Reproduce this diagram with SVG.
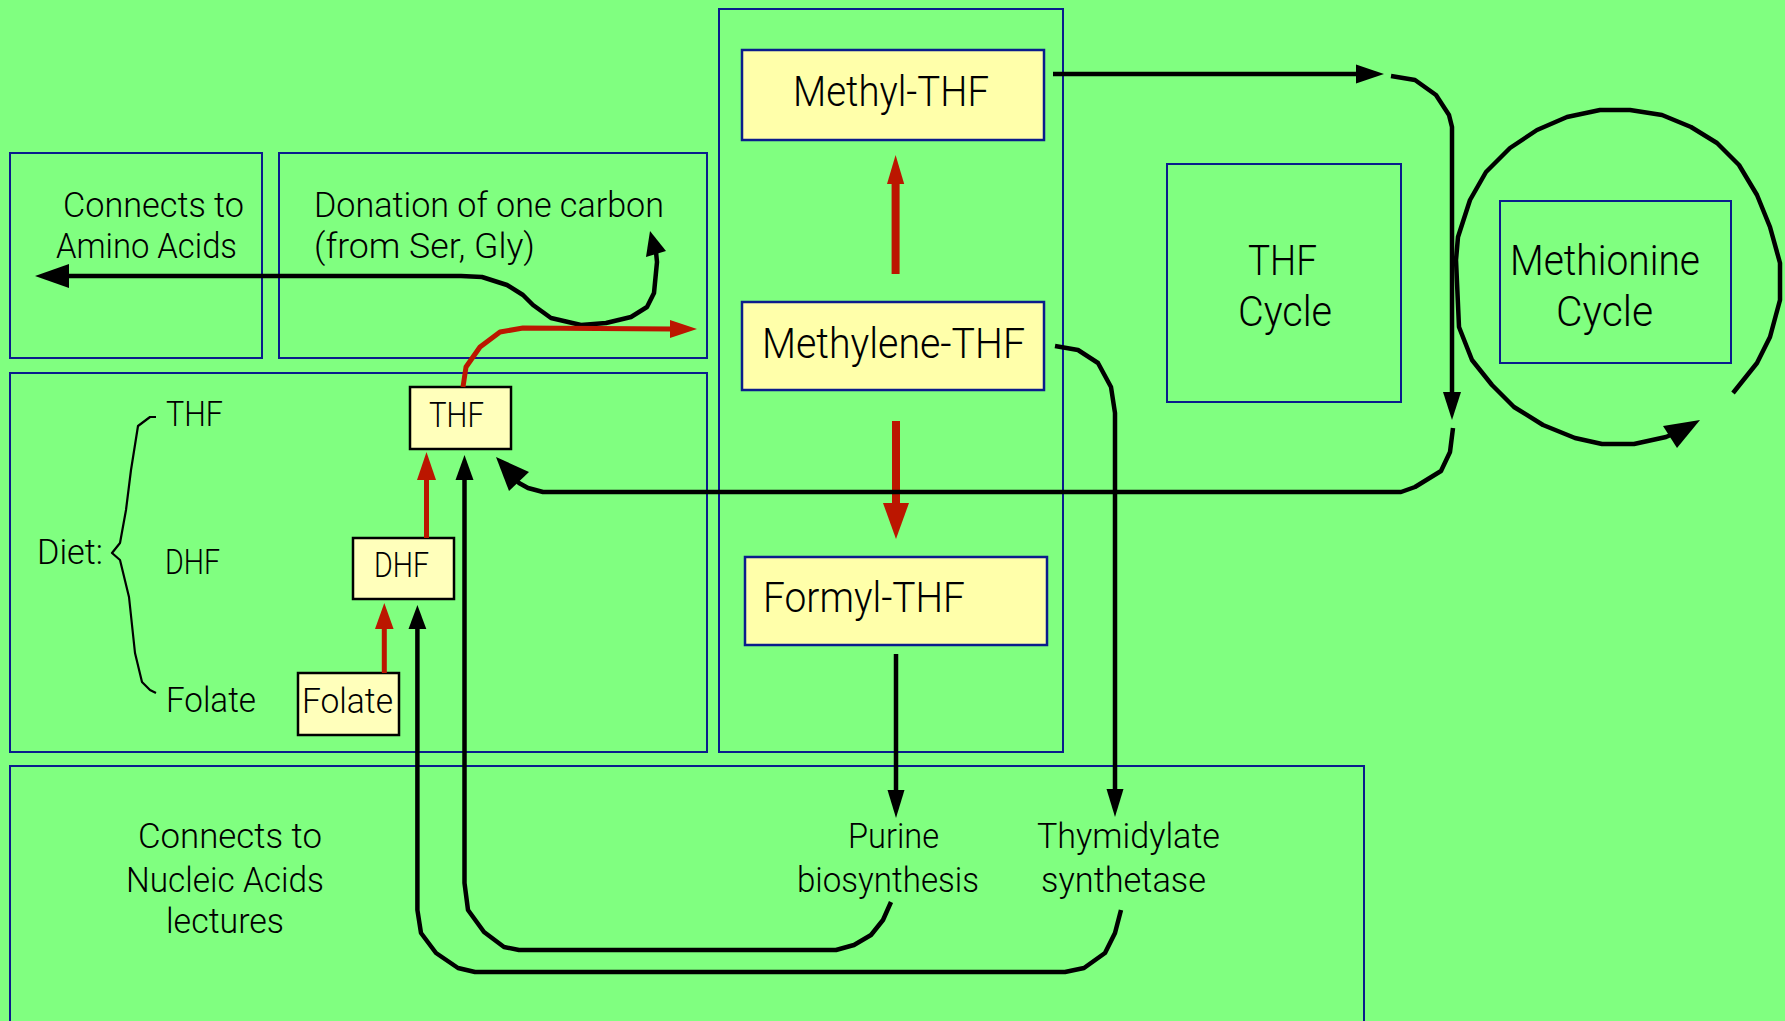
<svg xmlns="http://www.w3.org/2000/svg" width="1785" height="1021" viewBox="0 0 1785 1021">
<style>
.bg{fill:#80FF80}
.frame{fill:none;stroke:#0A1C8C;stroke-width:2}
.node{fill:#FFFFAA;stroke:#0A1C8C;stroke-width:2.5}
.snode{fill:#FFFFBB;stroke:#000;stroke-width:2.5}
text{font-family:Roboto,"Liberation Sans",Arial,sans-serif;font-weight:300;fill:#000}
.s{font-size:35px}
.l{font-size:42px}
.blk{fill:none;stroke:#000;stroke-width:4.5;stroke-linejoin:round}
.thin{fill:none;stroke:#000;stroke-width:2.2;stroke-linejoin:round}
.red{fill:none;stroke:#BB1600;stroke-width:5;stroke-linejoin:round}
.redw{fill:none;stroke:#BB1600;stroke-width:8}
.ah{fill:#000}
.rah{fill:#BB1600}
</style>
<rect class="bg" x="0" y="0" width="1785" height="1021"/>

<g id="amino-acids">
<rect class="frame" x="10" y="153" width="252" height="205"/>
<text class="s" x="63" y="217" textLength="181" lengthAdjust="spacingAndGlyphs">Connects to</text>
<text class="s" x="56" y="258" textLength="181" lengthAdjust="spacingAndGlyphs">Amino Acids</text>
</g>

<g id="donation">
<rect class="frame" x="279" y="153" width="428" height="205"/>
<text class="s" x="314" y="217" textLength="350" lengthAdjust="spacingAndGlyphs">Donation of one carbon</text>
<text class="s" x="314" y="258" textLength="221" lengthAdjust="spacingAndGlyphs">(from Ser, Gly)</text>
</g>

<g id="diet">
<rect class="frame" x="10" y="373" width="697" height="379"/>
<text class="s" x="37" y="564" textLength="66" lengthAdjust="spacingAndGlyphs">Diet:</text>
<text class="s" x="166" y="426" textLength="57" lengthAdjust="spacingAndGlyphs">THF</text>
<text class="s" x="165" y="574" textLength="55" lengthAdjust="spacingAndGlyphs">DHF</text>
<text class="s" x="166" y="712" textLength="90" lengthAdjust="spacingAndGlyphs">Folate</text>
<path class="thin" d="M156,417 L150,417 L138,426 L131,470 L126,510 L120,543 L112,553 L120,560 L129,597 L132,625 L135,653 L142,682 L150,690 L156,693"/>
</g>

<g id="node-thf">
<rect class="snode" x="410" y="387" width="101" height="62"/>
<text class="s" x="429" y="427" textLength="55" lengthAdjust="spacingAndGlyphs">THF</text>
</g>
<g id="node-dhf">
<rect class="snode" x="353" y="538" width="101" height="61"/>
<text class="s" x="374" y="577" textLength="55" lengthAdjust="spacingAndGlyphs">DHF</text>
</g>
<g id="node-folate">
<rect class="snode" x="298" y="673" width="101" height="62"/>
<text class="s" x="302" y="713" textLength="91" lengthAdjust="spacingAndGlyphs">Folate</text>
</g>

<g id="thf-forms">
<rect class="frame" x="719" y="9" width="344" height="743"/>
</g>
<g id="node-methyl">
<rect class="node" x="742" y="50" width="302" height="90"/>
<text class="l" x="793" y="106" textLength="196" lengthAdjust="spacingAndGlyphs">Methyl-THF</text>
</g>
<g id="node-methylene">
<rect class="node" x="742" y="302" width="302" height="88"/>
<text class="l" x="762" y="358" textLength="263" lengthAdjust="spacingAndGlyphs">Methylene-THF</text>
</g>
<g id="node-formyl">
<rect class="node" x="745" y="557" width="302" height="88"/>
<text class="l" x="763" y="612" textLength="202" lengthAdjust="spacingAndGlyphs">Formyl-THF</text>
</g>

<g id="thf-cycle">
<rect class="frame" x="1167" y="164" width="234" height="238"/>
<text class="l" x="1248" y="275" textLength="69" lengthAdjust="spacingAndGlyphs">THF</text>
<text class="l" x="1238" y="326" textLength="94" lengthAdjust="spacingAndGlyphs">Cycle</text>
</g>

<g id="methionine-cycle">
<rect class="frame" x="1500" y="201" width="231" height="162"/>
<text class="l" x="1510" y="275" textLength="190" lengthAdjust="spacingAndGlyphs">Methionine</text>
<text class="l" x="1556" y="326" textLength="97" lengthAdjust="spacingAndGlyphs">Cycle</text>
</g>

<g id="nucleic-acids">
<rect class="frame" x="10" y="766" width="1354" height="270"/>
<text class="s" x="138" y="848" textLength="184" lengthAdjust="spacingAndGlyphs">Connects to</text>
<text class="s" x="126" y="892" textLength="198" lengthAdjust="spacingAndGlyphs">Nucleic Acids</text>
<text class="s" x="166" y="933" textLength="118" lengthAdjust="spacingAndGlyphs">lectures</text>
</g>
<g id="purine">
<text class="s" x="848" y="848" textLength="91" lengthAdjust="spacingAndGlyphs">Purine</text>
<text class="s" x="797" y="892" textLength="182" lengthAdjust="spacingAndGlyphs">biosynthesis</text>
</g>
<g id="thymidylate">
<text class="s" x="1037" y="848" textLength="183" lengthAdjust="spacingAndGlyphs">Thymidylate</text>
<text class="s" x="1041" y="892" textLength="165" lengthAdjust="spacingAndGlyphs">synthetase</text>
</g>

<g id="connectors">
<!-- Donation <-> Amino acids -->
<path class="blk" d="M66,276 L461,276 L482,277 L507,285 L523,295 L533,305 L551,318 L581,325 L606,323 L631,317 L647,307 L654,293 L657,262 L656,252"/>
<polygon class="ah" points="35,276 69,264 69,288"/>
<polygon class="ah" points="650,231 666,251 646,257"/>
<!-- THF -> one carbon (red) -->
<path class="red" d="M463,387 L466,367 L480,347 L500,332 L523,328 L672,329"/>
<polygon class="rah" points="697,329 670,320 670,338"/>
<!-- Folate -> DHF -> THF (red) -->
<line class="red" x1="384.3" y1="673" x2="384.3" y2="626"/>
<polygon class="rah" points="384.3,603 375,629 393.6,629"/>
<line class="red" x1="426.5" y1="538" x2="426.5" y2="477"/>
<polygon class="rah" points="426.5,452 417,480 436,480"/>
<!-- Methylene -> Methyl, Methylene -> Formyl (red) -->
<line class="redw" x1="895.6" y1="274" x2="895.6" y2="180"/>
<polygon class="rah" points="895.6,155 887,184 904.2,184"/>
<line class="redw" x1="896" y1="421" x2="896" y2="506"/>
<polygon class="rah" points="896,539 883,503 909,503"/>
<!-- Methyl -> THF cycle -->
<line class="blk" x1="1053" y1="74" x2="1358" y2="74"/>
<polygon class="ah" points="1384,74 1356,64.5 1356,83.5"/>
<path class="blk" d="M1391,76 L1415,80 L1436,95 L1449,115 L1452,127 L1452,395"/>
<polygon class="ah" points="1452,420 1443,392 1461,392"/>
<path class="blk" d="M1453,428 L1450,452 L1441,471 L1415,487 L1401,492 L543,492 L528,488 L519,483 L514,478"/>
<polygon class="ah" points="496,457 509,491 529,472"/>
<!-- Methylene -> Thymidylate -->
<path class="blk" d="M1055,346 L1078,350 L1098,363 L1111,387 L1115,413 L1115,792"/>
<polygon class="ah" points="1115,817 1106.5,789 1123.5,789"/>
<!-- Formyl -> Purine -->
<line class="blk" x1="896" y1="654" x2="896" y2="794"/>
<polygon class="ah" points="896,818 887.5,790 904.5,790"/>
<!-- Purine -> THF -->
<path class="blk" d="M891,902 L883,920 L871,935 L854,945 L836,950 L519,950 L504,947 L484,932 L468,910 L464.5,883 L464.5,477"/>
<polygon class="ah" points="464.5,455 455.5,480 473.5,480"/>
<!-- Thymidylate -> DHF -->
<path class="blk" d="M1121,910 L1115,933 L1105,953 L1084,968 L1065,972 L475,972 L458,968 L436,953 L421,933 L417.4,910 L417.4,626"/>
<polygon class="ah" points="417.4,605 408.5,629 426.3,629"/>
<!-- Methionine cycle loop -->
<path class="blk" d="M1733,393 L1757,363 L1770,337 L1780,300 L1780,263 L1770,227 L1757,195 L1739,165 L1717,143 L1691,127 L1662,115 L1630,110 L1600,110 L1567,117 L1537,130 L1510,148 L1486,172 L1470,200 L1458,237 L1456,260 L1459,327 L1472,360 L1492,385 L1514,407 L1543,425 L1575,438 L1602,444 L1634,444 L1666,437 L1680,431"/>
<polygon class="ah" points="1700,420 1663,426 1677,448"/>
</g>
</svg>
